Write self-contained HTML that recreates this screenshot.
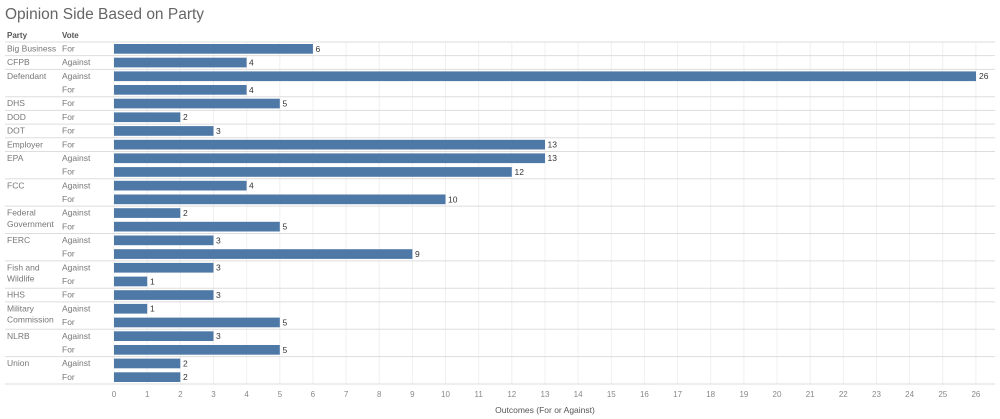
<!DOCTYPE html>
<html><head><meta charset="utf-8"><style>
body{margin:0;background:#fff}
svg{display:block;font-family:"Liberation Sans",sans-serif}
.l{font-size:8.5px;fill:#777}
.v{font-size:8.5px;fill:#333}
.t{font-size:8px;fill:#888}
</style></head><body>
<svg width="1000" height="419" viewBox="0 0 1000 419">
<text x="5" y="19" font-size="15.5" fill="#666">Opinion Side Based on Party</text>
<text x="7" y="38" font-size="8" font-weight="bold" fill="#555">Party</text>
<text x="62" y="38" font-size="8" font-weight="bold" fill="#555">Vote</text>
<g stroke="#f0f0f0" stroke-width="1">
<line x1="114" y1="42" x2="114" y2="384"/><line x1="147.2" y1="42" x2="147.2" y2="384"/><line x1="180.3" y1="42" x2="180.3" y2="384"/><line x1="213.5" y1="42" x2="213.5" y2="384"/><line x1="246.6" y1="42" x2="246.6" y2="384"/><line x1="279.8" y1="42" x2="279.8" y2="384"/><line x1="312.9" y1="42" x2="312.9" y2="384"/><line x1="346.1" y1="42" x2="346.1" y2="384"/><line x1="379.2" y1="42" x2="379.2" y2="384"/><line x1="412.4" y1="42" x2="412.4" y2="384"/><line x1="445.5" y1="42" x2="445.5" y2="384"/><line x1="478.7" y1="42" x2="478.7" y2="384"/><line x1="511.8" y1="42" x2="511.8" y2="384"/><line x1="545" y1="42" x2="545" y2="384"/><line x1="578.1" y1="42" x2="578.1" y2="384"/><line x1="611.3" y1="42" x2="611.3" y2="384"/><line x1="644.4" y1="42" x2="644.4" y2="384"/><line x1="677.6" y1="42" x2="677.6" y2="384"/><line x1="710.7" y1="42" x2="710.7" y2="384"/><line x1="743.9" y1="42" x2="743.9" y2="384"/><line x1="777" y1="42" x2="777" y2="384"/><line x1="810.2" y1="42" x2="810.2" y2="384"/><line x1="843.3" y1="42" x2="843.3" y2="384"/><line x1="876.5" y1="42" x2="876.5" y2="384"/><line x1="909.6" y1="42" x2="909.6" y2="384"/><line x1="942.8" y1="42" x2="942.8" y2="384"/><line x1="975.9" y1="42" x2="975.9" y2="384"/>
</g>
<g stroke="#ddd" stroke-width="1">
<line x1="5" y1="42" x2="995" y2="42"/>
<line x1="5" y1="55.68" x2="995" y2="55.68"/>
<line x1="5" y1="69.36" x2="995" y2="69.36"/>
<line x1="5" y1="96.72" x2="995" y2="96.72"/>
<line x1="5" y1="110.4" x2="995" y2="110.4"/>
<line x1="5" y1="124.08" x2="995" y2="124.08"/>
<line x1="5" y1="137.76" x2="995" y2="137.76"/>
<line x1="5" y1="151.44" x2="995" y2="151.44"/>
<line x1="5" y1="178.8" x2="995" y2="178.8"/>
<line x1="5" y1="206.16" x2="995" y2="206.16"/>
<line x1="5" y1="233.52" x2="995" y2="233.52"/>
<line x1="5" y1="260.88" x2="995" y2="260.88"/>
<line x1="5" y1="288.24" x2="995" y2="288.24"/>
<line x1="5" y1="301.92" x2="995" y2="301.92"/>
<line x1="5" y1="329.28" x2="995" y2="329.28"/>
<line x1="5" y1="356.64" x2="995" y2="356.64"/>
<line x1="5" y1="384" x2="995" y2="384"/>
</g>
<g class="l">
<text x="7" y="51.5">Big Business</text>
<text x="7" y="65.2">CFPB</text>
<text x="7" y="78.9">Defendant</text>
<text x="7" y="106.2">DHS</text>
<text x="7" y="119.9">DOD</text>
<text x="7" y="133.6">DOT</text>
<text x="7" y="147.3">Employer</text>
<text x="7" y="160.9">EPA</text>
<text x="7" y="188.3">FCC</text>
<text x="7" y="215.7">Federal</text>
<text x="7" y="227">Government</text>
<text x="7" y="243">FERC</text>
<text x="7" y="270.4">Fish and</text>
<text x="7" y="281.7">Wildlife</text>
<text x="7" y="297.7">HHS</text>
<text x="7" y="311.4">Military</text>
<text x="7" y="322.7">Commission</text>
<text x="7" y="338.8">NLRB</text>
<text x="7" y="366.1">Union</text>
</g>
<g class="l">
<text x="62" y="51.5">For</text>
<text x="62" y="65.2">Against</text>
<text x="62" y="78.9">Against</text>
<text x="62" y="92.5">For</text>
<text x="62" y="106.2">For</text>
<text x="62" y="119.9">For</text>
<text x="62" y="133.6">For</text>
<text x="62" y="147.3">For</text>
<text x="62" y="160.9">Against</text>
<text x="62" y="174.6">For</text>
<text x="62" y="188.3">Against</text>
<text x="62" y="202">For</text>
<text x="62" y="215.7">Against</text>
<text x="62" y="229.3">For</text>
<text x="62" y="243">Against</text>
<text x="62" y="256.7">For</text>
<text x="62" y="270.4">Against</text>
<text x="62" y="284.1">For</text>
<text x="62" y="297.7">For</text>
<text x="62" y="311.4">Against</text>
<text x="62" y="325.1">For</text>
<text x="62" y="338.8">Against</text>
<text x="62" y="352.5">For</text>
<text x="62" y="366.1">Against</text>
<text x="62" y="379.8">For</text>
</g>
<g fill="#4e79a7">
<rect x="114" y="44" width="198.9" height="9.7"/>
<rect x="114" y="57.7" width="132.6" height="9.7"/>
<rect x="114" y="71.4" width="862" height="9.7"/>
<rect x="114" y="85" width="132.6" height="9.7"/>
<rect x="114" y="98.7" width="165.8" height="9.7"/>
<rect x="114" y="112.4" width="66.3" height="9.7"/>
<rect x="114" y="126.1" width="99.5" height="9.7"/>
<rect x="114" y="139.8" width="431" height="9.7"/>
<rect x="114" y="153.4" width="431" height="9.7"/>
<rect x="114" y="167.1" width="397.8" height="9.7"/>
<rect x="114" y="180.8" width="132.6" height="9.7"/>
<rect x="114" y="194.5" width="331.5" height="9.7"/>
<rect x="114" y="208.2" width="66.3" height="9.7"/>
<rect x="114" y="221.8" width="165.8" height="9.7"/>
<rect x="114" y="235.5" width="99.5" height="9.7"/>
<rect x="114" y="249.2" width="298.4" height="9.7"/>
<rect x="114" y="262.9" width="99.5" height="9.7"/>
<rect x="114" y="276.6" width="33.2" height="9.7"/>
<rect x="114" y="290.2" width="99.5" height="9.7"/>
<rect x="114" y="303.9" width="33.2" height="9.7"/>
<rect x="114" y="317.6" width="165.8" height="9.7"/>
<rect x="114" y="331.3" width="99.5" height="9.7"/>
<rect x="114" y="345" width="165.8" height="9.7"/>
<rect x="114" y="358.6" width="66.3" height="9.7"/>
<rect x="114" y="372.3" width="66.3" height="9.7"/>
</g>
<g class="v">
<text x="315.5" y="51.8">6</text>
<text x="249" y="65.5">4</text>
<text x="979" y="79.2">26</text>
<text x="249" y="92.8">4</text>
<text x="282.5" y="106.5">5</text>
<text x="183" y="120.2">2</text>
<text x="216" y="133.9">3</text>
<text x="547.5" y="147.6">13</text>
<text x="547.5" y="161.2">13</text>
<text x="514.5" y="174.9">12</text>
<text x="249" y="188.6">4</text>
<text x="448" y="202.3">10</text>
<text x="183" y="216">2</text>
<text x="282.5" y="229.6">5</text>
<text x="216" y="243.3">3</text>
<text x="415" y="257">9</text>
<text x="216" y="270.7">3</text>
<text x="150" y="284.4">1</text>
<text x="216" y="298">3</text>
<text x="150" y="311.7">1</text>
<text x="282.5" y="325.4">5</text>
<text x="216" y="339.1">3</text>
<text x="282.5" y="352.8">5</text>
<text x="183" y="366.4">2</text>
<text x="183" y="380.1">2</text>
</g>
<g class="t" text-anchor="middle">
<text x="114" y="397">0</text><text x="147.2" y="397">1</text><text x="180.3" y="397">2</text><text x="213.5" y="397">3</text><text x="246.6" y="397">4</text><text x="279.8" y="397">5</text><text x="312.9" y="397">6</text><text x="346.1" y="397">7</text><text x="379.2" y="397">8</text><text x="412.4" y="397">9</text><text x="445.5" y="397">10</text><text x="478.7" y="397">11</text><text x="511.8" y="397">12</text><text x="545" y="397">13</text><text x="578.1" y="397">14</text><text x="611.3" y="397">15</text><text x="644.4" y="397">16</text><text x="677.6" y="397">17</text><text x="710.7" y="397">18</text><text x="743.9" y="397">19</text><text x="777" y="397">20</text><text x="810.2" y="397">21</text><text x="843.3" y="397">22</text><text x="876.5" y="397">23</text><text x="909.6" y="397">24</text><text x="942.8" y="397">25</text><text x="975.9" y="397">26</text>
</g>
<text x="545" y="413" text-anchor="middle" font-size="8.5" fill="#555">Outcomes (For or Against)</text>
</svg>
</body></html>
